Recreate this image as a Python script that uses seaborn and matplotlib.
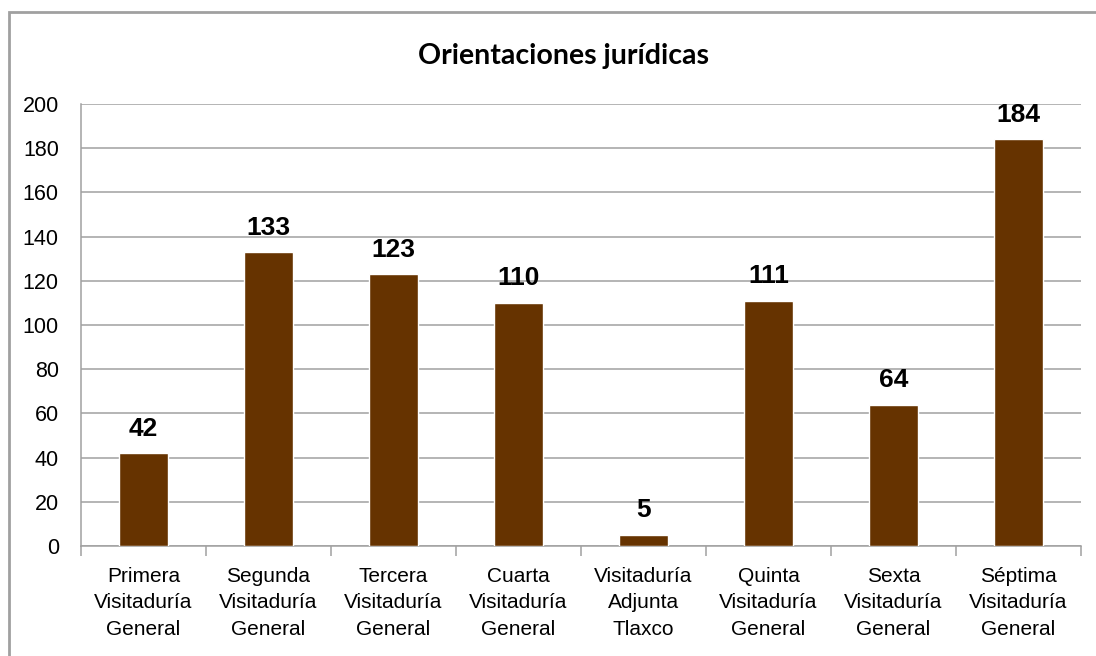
import matplotlib
matplotlib.use('Agg')
import matplotlib.pyplot as plt
import seaborn as sns
import pandas as pd
from matplotlib.patches import Rectangle
from matplotlib.ticker import FixedLocator

# datos del gráfico
categorias = ['Primera\nVisitaduría\nGeneral', 'Segunda\nVisitaduría\nGeneral',
              'Tercera\nVisitaduría\nGeneral', 'Cuarta\nVisitaduría\nGeneral',
              'Visitaduría\nAdjunta\nTlaxco', 'Quinta\nVisitaduría\nGeneral',
              'Sexta\nVisitaduría\nGeneral', 'Séptima\nVisitaduría\nGeneral']
valores = [42, 133, 123, 110, 5, 111, 64, 184]
titulo = 'Orientaciones jurídicas'

df = pd.DataFrame({'categoria': categorias, 'valor': valores})

sns.set_style('white')
plt.rcParams['font.family'] = ['Liberation Sans Narrow', 'Liberation Sans', 'DejaVu Sans']
plt.rcParams['text.color'] = 'black'
plt.rcParams['xtick.color'] = 'black'
plt.rcParams['ytick.color'] = 'black'

fig = plt.figure(figsize=(10.96, 6.56), dpi=100)
ax = fig.add_axes([0.0739, 0.1677, 0.9124, 0.6738])

sns.barplot(x='categoria', y='valor', data=df, color='#663300', width=0.39,
            saturation=1, ax=ax, zorder=3)

ax.set_ylim(0, 200)
ax.set_xlim(-0.5, len(categorias) - 0.5)
ax.set_yticks(range(0, 201, 20))
ax.yaxis.grid(True, color='#a0a0a0', linewidth=1.1, zorder=0)
ax.set_xlabel('')
ax.set_ylabel('')

for lado in ['top', 'right']:
    ax.spines[lado].set_visible(False)
for lado in ['left', 'bottom']:
    ax.spines[lado].set_color('#a0a0a0')
    ax.spines[lado].set_linewidth(1.1)

ax.tick_params(axis='y', length=7, width=1.1, color='#a0a0a0', labelcolor='black',
               labelsize=15.5, pad=9)
ax.tick_params(axis='x', which='major', length=0, labelcolor='black',
               labelsize=15, pad=15)
ax.xaxis.set_minor_locator(FixedLocator([i - 0.5 for i in range(len(categorias) + 1)]))
ax.tick_params(axis='x', which='minor', length=7, width=1.1, color='#a0a0a0', bottom=True)
for lbl in ax.get_xticklabels():
    lbl.set_linespacing(1.5)

# etiquetas de valor
for i, v in enumerate(valores):
    ax.annotate(str(v), (i, v), xytext=(0, 9), textcoords='offset points',
                ha='center', va='bottom', fontsize=19, fontweight='bold', color='black')

fig.text(0.514, 0.915, titulo, ha='center', va='center', fontsize=20.5,
         fontweight='bold', color='black', family=['Lato', 'DejaVu Sans'])

# borde del gráfico
fig.patches.append(Rectangle((9 / 1096, -0.05), 1.1, 1 - 12 / 656 + 0.05,
                             transform=fig.transFigure, fill=False,
                             edgecolor='#a0a0a0', linewidth=2))

fig.savefig('out.png', dpi=100)
